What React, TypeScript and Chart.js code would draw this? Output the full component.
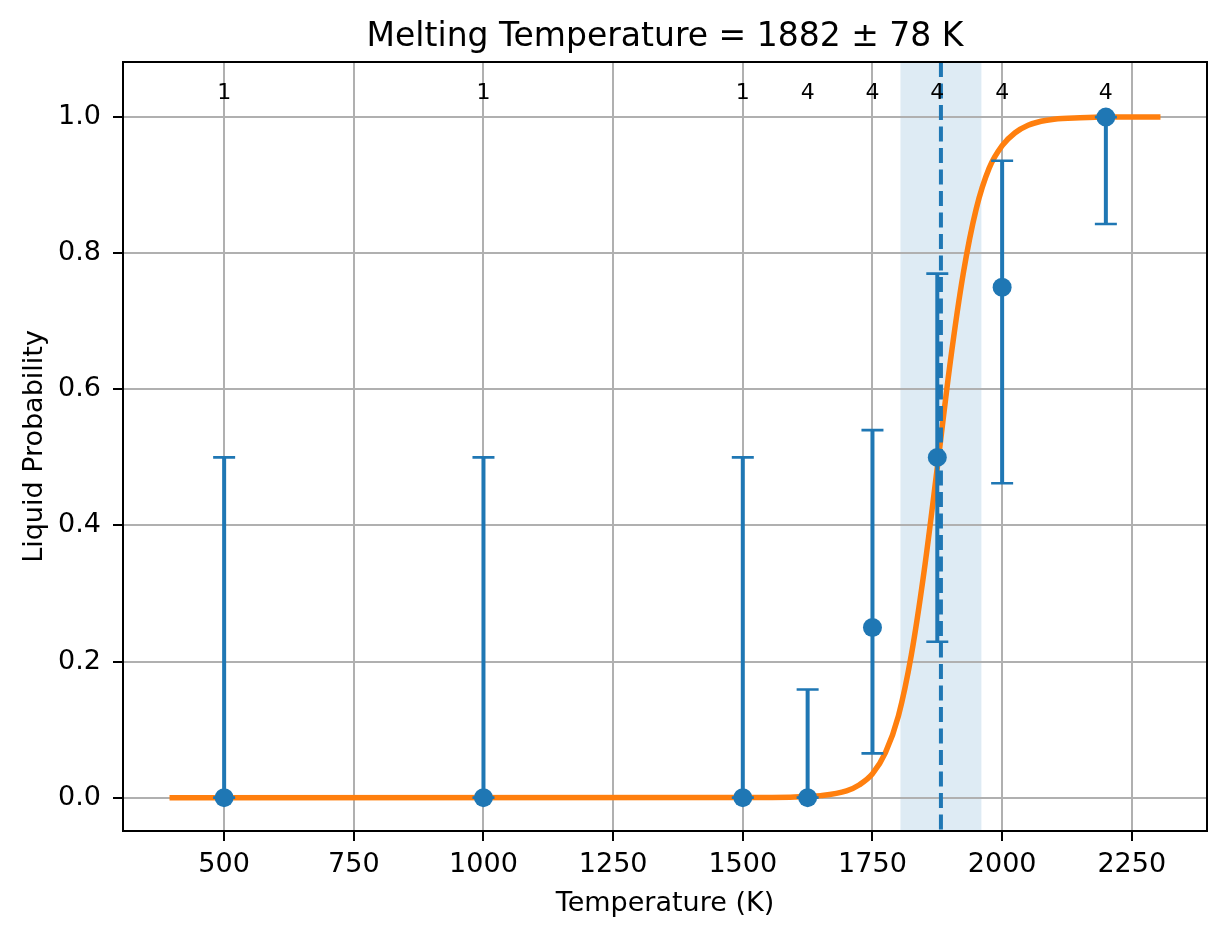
import { useEffect, useRef } from 'react';
import Chart from 'chart.js/auto';

// measured temperatures (K) and fraction of runs that ended liquid
const temps = [500, 1000, 1500, 1625, 1750, 1875, 2000, 2200];
const liquidProb = [0, 0, 0, 0, 0.25, 0.5, 0.75, 1.0];
const errLow = [0, 0, 0, 0, 0.065, 0.229, 0.462, 0.843];
const errHigh = [0.5, 0.5, 0.5, 0.159, 0.54, 0.77, 0.936, 1.0];
const runCounts = ['1', '1', '1', '4', '4', '4', '4', '4'];

// fitted curve
const fitTemps = [400, 1500, 1550, 1600, 1650, 1700, 1725, 1750, 1775, 1800, 1825, 1850, 1875, 1900, 1925, 1950, 1975, 2000, 2025, 2050, 2075, 2100, 2150, 2200, 2300];
const fitProb = [0, 0.0001, 0.0003, 0.001, 0.003, 0.01, 0.019, 0.035, 0.066, 0.12, 0.21, 0.335, 0.485, 0.64, 0.77, 0.865, 0.925, 0.958, 0.977, 0.988, 0.994, 0.997, 0.999, 1.0, 1.0];

const meltT = 1882;
const meltErr = 78;

const xTicks = [500, 750, 1000, 1250, 1500, 1750, 2000, 2250];
const yTicks = [0, 0.2, 0.4, 0.6, 0.8, 1.0];

const FONT = "'DejaVu Sans', sans-serif";
const BLUE = '#1f77b4';
const ORANGE = '#ff7f0e';

const overlay = {
  id: 'meltOverlay',
  beforeDraw(chart: any) {
    const { ctx, chartArea, scales } = chart;
    const x0 = scales.x.getPixelForValue(meltT - meltErr);
    const x1 = scales.x.getPixelForValue(meltT + meltErr);
    ctx.save();
    ctx.fillStyle = 'rgba(31,119,180,0.15)';
    ctx.fillRect(x0, chartArea.top, x1 - x0, chartArea.bottom - chartArea.top);
    ctx.restore();
  },
  beforeDatasetDraw(chart: any, args: any) {
    if (args.index !== 0) return;
    const { ctx, chartArea, scales } = chart;
    ctx.save();
    ctx.beginPath();
    ctx.rect(chartArea.left, chartArea.top, chartArea.right - chartArea.left, chartArea.bottom - chartArea.top);
    ctx.clip();
    ctx.strokeStyle = BLUE;
    temps.forEach((t, i) => {
      const px = scales.x.getPixelForValue(t);
      const lo = scales.y.getPixelForValue(errLow[i]);
      const hi = scales.y.getPixelForValue(errHigh[i]);
      ctx.lineWidth = 4;
      ctx.beginPath();
      ctx.moveTo(px, lo);
      ctx.lineTo(px, hi);
      ctx.stroke();
      ctx.lineWidth = 2.6;
      ctx.beginPath();
      ctx.moveTo(px - 11, lo);
      ctx.lineTo(px + 11, lo);
      ctx.moveTo(px - 11, hi);
      ctx.lineTo(px + 11, hi);
      ctx.stroke();
    });
    ctx.restore();
  },
  afterDatasetsDraw(chart: any) {
    const { ctx, chartArea, scales } = chart;
    ctx.save();
    // melting temperature marker
    const mx = scales.x.getPixelForValue(meltT);
    ctx.strokeStyle = BLUE;
    ctx.lineWidth = 4;
    ctx.setLineDash([15, 6.5]);
    ctx.beginPath();
    ctx.moveTo(mx, chartArea.top);
    ctx.lineTo(mx, chartArea.bottom);
    ctx.stroke();
    ctx.setLineDash([]);

    // run counts above each point
    ctx.fillStyle = '#000';
    ctx.font = `22px ${FONT}`;
    ctx.textAlign = 'center';
    ctx.textBaseline = 'alphabetic';
    temps.forEach((t, i) => {
      ctx.fillText(runCounts[i], scales.x.getPixelForValue(t), scales.y.getPixelForValue(1.027));
    });

    // spines
    ctx.strokeStyle = '#000';
    ctx.lineWidth = 2;
    ctx.strokeRect(chartArea.left, chartArea.top, chartArea.right - chartArea.left, chartArea.bottom - chartArea.top);

    // title + axis labels
    const cx = (chartArea.left + chartArea.right) / 2;
    const cy = (chartArea.top + chartArea.bottom) / 2;
    ctx.font = `33px ${FONT}`;
    ctx.fillText('Melting Temperature = 1882 ± 78 K', cx, chartArea.top - 16);
    ctx.font = `27px ${FONT}`;
    ctx.fillText('Temperature (K)', cx, chartArea.bottom + 80);
    ctx.translate(42, cy);
    ctx.rotate(-Math.PI / 2);
    ctx.fillText('Liquid Probability', 0, 0);
    ctx.restore();
  },
};

export default function App() {
  const canvasRef = useRef<HTMLCanvasElement>(null);
  const chartRef = useRef<Chart | null>(null);

  useEffect(() => {
    if (!canvasRef.current) return;
    if (chartRef.current) chartRef.current.destroy();

    chartRef.current = new Chart(canvasRef.current, {
      type: 'scatter',
      data: {
        datasets: [
          {
            label: 'runs',
            data: temps.map((t, i) => ({ x: t, y: liquidProb[i] })),
            backgroundColor: BLUE,
            borderWidth: 0,
            pointRadius: 9.5,
            pointHoverRadius: 9.5,
          },
          {
            type: 'line',
            label: 'fit',
            data: fitTemps.map((t, i) => ({ x: t, y: fitProb[i] })),
            borderColor: ORANGE,
            borderWidth: 5.5,
            borderCapStyle: 'square',
            pointRadius: 0,
            fill: false,
            cubicInterpolationMode: 'monotone',
          },
        ],
      },
      options: {
        animation: false,
        responsive: true,
        maintainAspectRatio: false,
        layout: { padding: { top: 62, right: 20, left: 0, bottom: 0 } },
        plugins: {
          legend: { display: false },
          title: { display: false },
          tooltip: { enabled: false },
        },
        scales: {
          x: {
            type: 'linear',
            min: 305,
            max: 2395,
            afterBuildTicks: (scale: any) => {
              scale.ticks = xTicks.map((v) => ({ value: v }));
            },
            afterFit: (scale: any) => {
              scale.height = 108;
            },
            border: { display: false },
            grid: { color: '#b0b0b0', lineWidth: 2, tickColor: '#000', tickLength: 10, tickWidth: 2 },
            ticks: {
              color: '#000',
              font: { family: FONT, size: 27 },
              padding: 8,
              maxRotation: 0,
              callback: (v: any) => String(v),
            },
          },
          y: {
            type: 'linear',
            min: -0.049,
            max: 1.081,
            afterBuildTicks: (scale: any) => {
              scale.ticks = yTicks.map((v) => ({ value: v }));
            },
            afterFit: (scale: any) => {
              scale.width = 123;
            },
            border: { display: false },
            grid: { color: '#b0b0b0', lineWidth: 2, tickColor: '#000', tickLength: 10, tickWidth: 2 },
            ticks: {
              color: '#000',
              font: { family: FONT, size: 27 },
              padding: 12,
              callback: (v: any) => Number(v).toFixed(1),
            },
          },
        },
      },
      plugins: [overlay],
    } as any);

    return () => {
      if (chartRef.current) {
        chartRef.current.destroy();
        chartRef.current = null;
      }
    };
  }, []);

  return (
    <div style={{ position: 'absolute', left: 0, top: 0, width: 1227, height: 939, background: '#fff' }}>
      <canvas ref={canvasRef} />
    </div>
  );
}
